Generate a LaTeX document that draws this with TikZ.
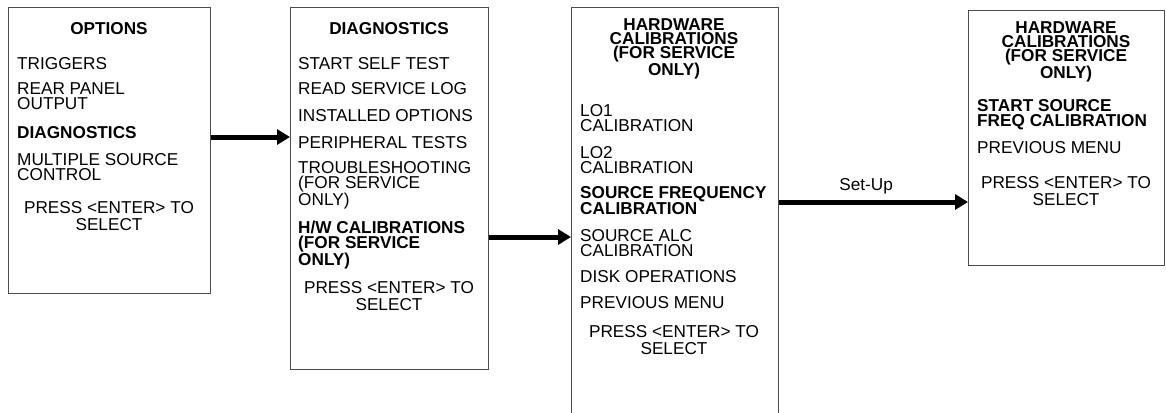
\documentclass[tikz,border=0pt]{standalone}
\usepackage{fontspec}
\setmainfont{Liberation Sans}
\usetikzlibrary{arrows.meta}

\tikzset{menubox/.style={draw=black!70,line width=1.3pt,anchor=north west,inner sep=0pt},
         menutitle/.style={font=\fontsize{17.2}{14}\selectfont\bfseries,align=center,anchor=north,inner sep=0pt},
         entry/.style={font=\fontsize{17.2}{15}\selectfont,align=left,anchor=north west,inner sep=0pt},
         pick/.style={entry,font=\fontsize{17.2}{15}\selectfont\bfseries},
         press/.style={font=\fontsize{17.2}{17}\selectfont,align=center,anchor=north,inner sep=0pt},
         bigarrow/.style={-{Triangle[length=13pt,width=15pt]},line width=5pt}}

\begin{document}
\begin{tikzpicture}[x=1pt,y=-1pt]
                  \useasboundingbox (0,0) rectangle (1166,412);
                  % menu frames
                  \node[menubox,minimum width=202pt,minimum height=286pt] (opts) at (8,7) {};
                  \node[menubox,minimum width=198pt,minimum height=362pt] (diag) at (290,7) {};
                  \node[menubox,minimum width=207pt,minimum height=430pt] (hwcal) at (571,7) {};
                  \node[menubox,minimum width=196pt,minimum height=255pt] (freqcal) at (968,10) {};
                  % options menu
                  \node[menutitle] (optsT) at (109,22) {OPTIONS};
                  \node[entry] (trig) at (17,57) {TRIGGERS};
                  \node[entry] (rear) at (17,82) {REAR PANEL\\OUTPUT};
                  \node[pick] (diagsel) at (17,126) {DIAGNOSTICS};
                  \node[entry] (multi) at (17,153) {MULTIPLE SOURCE\\CONTROL};
                  \node[press] (optsP) at (109,201) {PRESS <ENTER> TO\\SELECT};
                  % diagnostics menu
                  \node[menutitle] (diagT) at (389,22) {DIAGNOSTICS};
                  \node[entry] (self) at (298,57) {START SELF TEST};
                  \node[entry] (log) at (298,82) {READ SERVICE LOG};
                  \node[entry] (inst) at (298,109) {INSTALLED OPTIONS};
                  \node[entry] (peri) at (298,136) {PERIPHERAL TESTS};
                  \node[entry] (trbl) at (298,161) {TROUBLESHOOTING\\(FOR SERVICE\\ONLY)};
                  \node[pick] (hwsel) at (298,221) {H/W CALIBRATIONS\\(FOR SERVICE\\ONLY)};
                  \node[press] (diagP) at (389,281) {PRESS <ENTER> TO\\SELECT};
                  % hardware calibrations menu
                  \node[menutitle] (hwT) at (674,18) {HARDWARE\\CALIBRATIONS\\(FOR SERVICE\\ONLY)};
                  \node[entry] (lo1) at (580,104) {LO1\\CALIBRATION};
                  \node[entry] (lo2) at (580,146) {LO2\\CALIBRATION};
                  \node[pick] (srcfreq) at (580,186) {SOURCE FREQUENCY\\CALIBRATION};
                  \node[entry] (alc) at (580,229) {SOURCE ALC\\CALIBRATION};
                  \node[entry] (disk) at (580,270) {DISK OPERATIONS};
                  \node[entry] (prev) at (580,296) {PREVIOUS MENU};
                  \node[press] (hwP) at (674,325) {PRESS <ENTER> TO\\SELECT};
                  % source freq calibration menu
                  \node[menutitle] (freqT) at (1066,21) {HARDWARE\\CALIBRATIONS\\(FOR SERVICE\\ONLY)};
                  \node[pick] (startfreq) at (977,99) {START SOURCE\\FREQ CALIBRATION};
                  \node[entry] (prev2) at (977,141) {PREVIOUS MENU};
                  \node[press] (freqP) at (1066,176) {PRESS <ENTER> TO\\SELECT};
                  % arrows
                  \coordinate (a1) at (0,137);
                  \coordinate (a2) at (0,237);
                  \coordinate (a3) at (0,202);
                  \draw[bigarrow] (opts.east |- a1) -- (diag.west |- a1);
                  \draw[bigarrow] (diag.east |- a2) -- (hwcal.west |- a2);
                  \draw[bigarrow] (hwcal.east |- a3) -- node[pos=0.46,above=5pt,inner sep=0pt,font=\fontsize{17.2}{15}\selectfont]{Set-Up} (freqcal.west |- a3);
              \end{tikzpicture}
\end{document}
